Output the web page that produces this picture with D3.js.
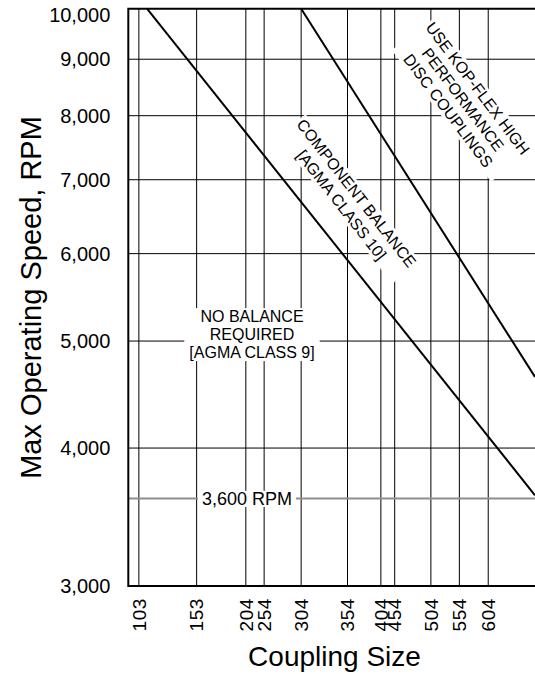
<!DOCTYPE html>
<html>
<head>
<meta charset="utf-8">
<script src="https://cdn.jsdelivr.net/npm/d3@7"></script>
<style>
  html, body { margin: 0; padding: 0; background: #fff; }
  svg { display: block; }
  text { font-family: "Liberation Sans", Arial, sans-serif; fill: #000; }
</style>
</head>
<body>
<svg id="chart" width="535" height="674"></svg>
<script>
// ---------------- data ----------------
const couplingSizes = ["103", "153", "204", "254", "304", "354", "404", "454", "504", "554", "604"];
// position of each size along the size axis (0 = left frame, 100 = right edge of the picture)
const sizeAxisValue = [2.6, 16.8, 28.9, 33.4, 42.5, 53.9, 62.1, 65.5, 74.4, 81.4, 88.5];
const speedTicks = [3000, 4000, 5000, 6000, 7000, 8000, 9000, 10000];
const referenceSpeed = 3600;
// limit lines: [size axis value, max speed RPM]
const componentBalanceLimit = [[4.6, 10000], [100, 3625]];
const discCouplingLimit = [[42.5, 10000], [100, 4640]];

const noBalanceText = ["NO BALANCE", "REQUIRED", "[AGMA CLASS 9]"];
const componentText = ["COMPONENT BALANCE", "[AGMA CLASS 10]"];
const discText = ["USE KOP-FLEX HIGH", "PERFORMANCE", "DISC COUPLINGS"];
const refText = "3,600 RPM";

// ---------------- chart ----------------
const W = 535, H = 674;
const svg = d3.select("#chart");
const x = d3.scaleLinear().domain([0, 100]).range([128.3, 535]);
const y = d3.scaleLog().domain([3000, 10000]).range([586, 8.7]);

const grid = svg.append("g");
// vertical grid lines
grid.selectAll("line.v").data(sizeAxisValue).join("line")
  .attr("class", "v")
  .attr("x1", d => x(d)).attr("x2", d => x(d))
  .attr("y1", y(10000)).attr("y2", y(3000))
  .attr("stroke", "#000").attr("stroke-width", 1);
// horizontal grid lines
grid.selectAll("line.h").data(speedTicks.filter(d => d !== 3000 && d !== 10000)).join("line")
  .attr("class", "h")
  .attr("x1", x(0)).attr("x2", W + 5)
  .attr("y1", d => y(d)).attr("y2", d => y(d))
  .attr("stroke", "#000").attr("stroke-width", 1);
// 3600 RPM reference line
grid.append("line")
  .attr("x1", x(0)).attr("x2", W + 5)
  .attr("y1", y(referenceSpeed)).attr("y2", y(referenceSpeed))
  .attr("stroke", "#8e8e8e").attr("stroke-width", 2);

// annotation helper: rotated multi-line text on white box
function annot(lines, cx, cy, angle, fs, lh, padX, padY) {
  const g = svg.append("g").attr("transform", `translate(${cx},${cy}) rotate(${angle})`);
  const rect = g.append("rect").attr("fill", "#fff");
  const t = g.append("text").attr("text-anchor", "middle").style("font-size", fs + "px");
  lines.forEach((s, i) => {
    t.append("tspan").attr("x", 0)
      .attr("y", (i - (lines.length - 1) / 2) * lh)
      .attr("dy", "0.35em").text(s);
  });
  const b = t.node().getBBox();
  rect.attr("x", b.x - padX).attr("y", b.y - padY)
    .attr("width", b.width + 2 * padX).attr("height", b.height + 2 * padY);
  return g;
}

annot(noBalanceText, 252, 334.5, 0, 16, 18, 5, 0);
annot(componentText, 349, 199, 52, 16, 19, 2, 0);
annot(discText, 463, 99.5, 53, 16, 18.5, 2, 0);
annot([refText], 247, y(referenceSpeed), 0, 18, 18, 4, -2);

// limit lines
const line = d3.line().x(d => x(d[0])).y(d => y(d[1]));
[componentBalanceLimit, discCouplingLimit].forEach(data => {
  svg.append("path").datum(data).attr("d", line)
    .attr("fill", "none").attr("stroke", "#000").attr("stroke-width", 2);
});

// frame (left, top, bottom)
svg.append("path")
  .attr("d", `M${W + 5},${y(10000)} H${x(0)} V${y(3000)} H${W + 5}`)
  .attr("fill", "none").attr("stroke", "#000").attr("stroke-width", 2);

// y axis labels
const yAxis = svg.append("g").attr("transform", `translate(${x(0)},0)`)
  .call(d3.axisLeft(y).tickValues(speedTicks).tickFormat(d3.format(",")).tickSize(0).tickPadding(18));
yAxis.select(".domain").remove();
yAxis.selectAll("text").style("font-size", "20px").style("font-family", null).attr("fill", "#000");
yAxis.selectAll(".tick").filter(d => d === 10000).select("text").attr("y", 6);

// x axis labels
const xAxis = svg.append("g").attr("transform", `translate(0,${y(3000)})`)
  .call(d3.axisBottom(x).tickValues(sizeAxisValue).tickFormat((d, i) => couplingSizes[i]).tickSize(0));
xAxis.select(".domain").remove();
xAxis.selectAll("text")
  .style("font-size", "19px").style("font-family", null).style("letter-spacing", "0.6px")
  .attr("fill", "#000")
  .attr("transform", "rotate(-90)")
  .attr("x", -12).attr("y", 0).attr("dy", "0.33em")
  .style("text-anchor", "end");

// axis titles
svg.append("text")
  .attr("transform", `translate(40.7,297.5) rotate(-90)`)
  .attr("text-anchor", "middle").style("font-size", "29px")
  .text("Max Operating Speed, RPM");
svg.append("text")
  .attr("x", 334.5).attr("y", 666)
  .attr("text-anchor", "middle").style("font-size", "28px")
  .text("Coupling Size");
</script>
</body>
</html>
